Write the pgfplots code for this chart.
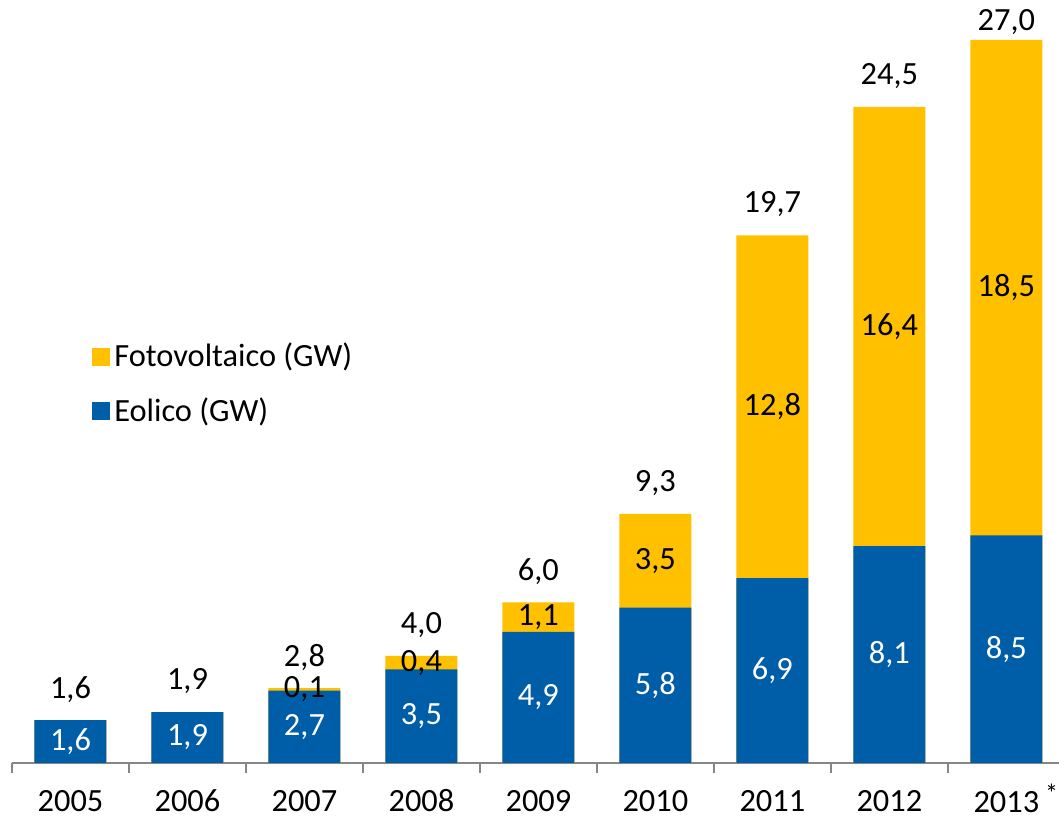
\documentclass[border=0pt]{standalone}
\usepackage{pgfplots}
\pgfplotsset{compat=1.18}
\usepackage{pgfplotstable}
\usepackage{fontspec}
\setmainfont{Carlito}
\definecolor{eolblue}{RGB}{0,94,168}
\definecolor{fvgold}{RGB}{255,192,0}
\definecolor{axgray}{RGB}{134,134,134}
\pgfplotstableread{
x eol fv tot el fl tl
0 1.6 0.0 1.6 1,6 0,0 1,6
1 1.9 0.0 1.9 1,9 0,0 1,9
2 2.7 0.1 2.8 2,7 0,1 2,8
3 3.5 0.4 4.0 3,5 0,4 4,0
4 4.9 1.1 6.0 4,9 1,1 6,0
5 5.8 3.5 9.3 5,8 3,5 9,3
6 6.9 12.8 19.7 6,9 12,8 19,7
7 8.1 16.4 24.5 8,1 16,4 24,5
8 8.5 18.5 27.0 8,5 18,5 27,0
}\datatable
\begin{document}
\begin{tikzpicture}
\begin{axis}[
  scale only axis,
  width=523.5pt, height=381.5pt,
  xmin=-0.5, xmax=8.45,
  ymin=0, ymax=28.49,
  axis x line*=bottom,
  axis y line=none,
  x axis line style={draw=axgray, line width=0.8pt},
  xtick={0,...,8},
  xticklabels={2005,2006,2007,2008,2009,2010,2011,2012,{2013\rlap{\hspace{3pt}\raisebox{5pt}{\fontsize{13}{14}\selectfont *}}}},
  minor xtick={-0.5,0.5,1.5,2.5,3.5,4.5,5.5,6.5,7.5},
  major tick length=0pt,
  minor tick length=5pt,
  minor tick style={draw=axgray, line width=0.8pt},
  tick align=outside,
  ytick=\empty,
  typeset ticklabels with strut,
  font=\fontsize{16.2}{19.4}\selectfont,
  tick label style={font=\fontsize{16.2}{19.4}\selectfont, yshift=-7pt},
  clip=false,
  legend cell align=left,
  legend style={at={(0.0764,0.556)}, anchor=north west, draw=none, fill=none,
    row sep=10pt, inner sep=0pt, font=\fontsize{16.2}{19.4}\selectfont,
    nodes={inner sep=2pt}},
  legend image code/.code={\fill[#1,/tikz/.cd,draw=none] (0pt,-4.5pt) rectangle (9pt,4.5pt);},
]
\addplot[ybar, bar width=36pt, fill=fvgold, draw=none] table[x=x, y=tot] {\datatable};
\addlegendentry{Fotovoltaico (GW)}
\addplot[ybar, bar width=36pt, fill=eolblue, draw=none] table[x=x, y=eol] {\datatable};
\addlegendentry{Eolico (GW)}
% blue labels
\addplot[draw=none, forget plot, nodes near coords, point meta=explicit symbolic,
  every node near coord/.append style={anchor=center, text=white}]
  table[x=x, y expr=\thisrow{eol}/2, meta=el] {\datatable};
% yellow labels
\addplot[draw=none, forget plot, nodes near coords, point meta=explicit symbolic,
  restrict x to domain=1.5:9,
  every node near coord/.append style={anchor=center, text=black}]
  table[x=x, y expr=(\thisrow{eol}+\thisrow{tot})/2, meta=fl] {\datatable};
% total labels
\addplot[draw=none, forget plot, nodes near coords, point meta=explicit symbolic,
  restrict x to domain=-1:7.5,
  every node near coord/.append style={anchor=center, text=black, yshift=15.5pt}]
  table[x=x, y=tot, meta=tl] {\datatable};
\addplot[draw=none, forget plot, nodes near coords, point meta=explicit symbolic,
  restrict x to domain=7.5:9,
  every node near coord/.append style={anchor=center, text=black, yshift=9pt}]
  table[x=x, y=tot, meta=tl] {\datatable};
\coordinate (ll) at (rel axis cs:0,0);
\coordinate (ur) at (rel axis cs:1,1);
\end{axis}
\pgfresetboundingbox
\path ([xshift=-6pt,yshift=-27pt]ll) rectangle (ur);
\end{tikzpicture}
\end{document}
